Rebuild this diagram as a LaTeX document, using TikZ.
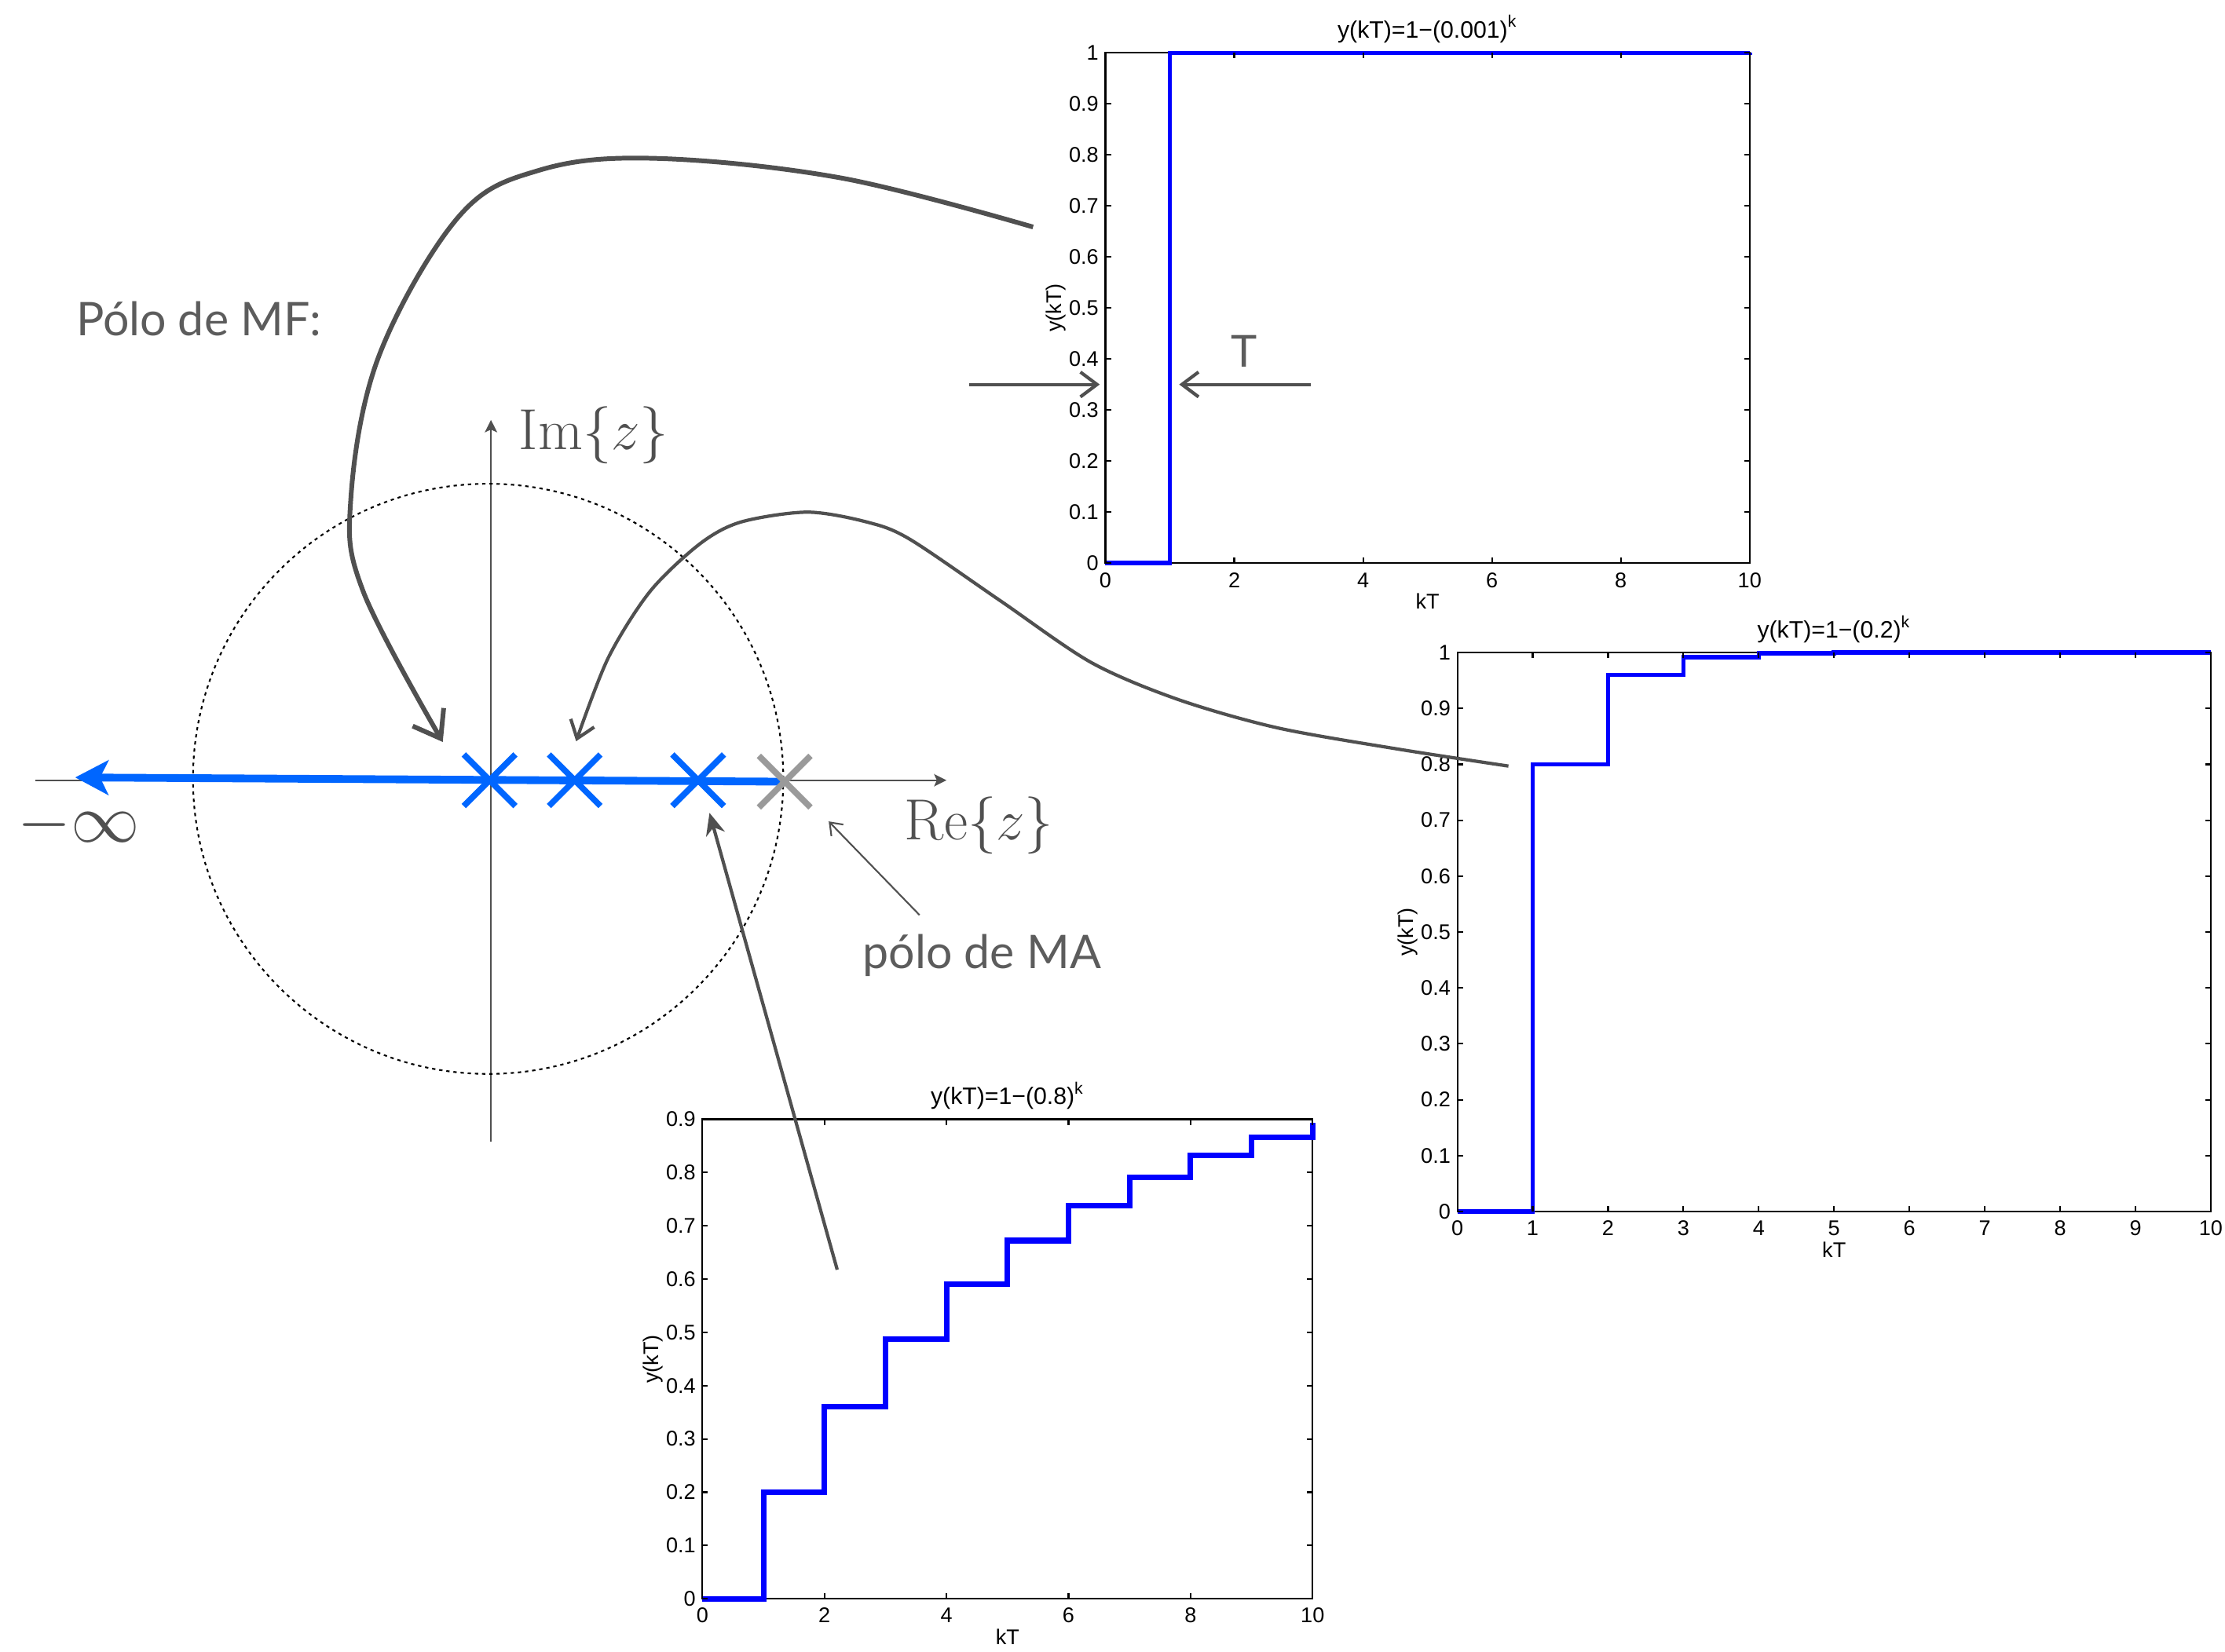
\documentclass[tikz,border=0pt]{standalone}
\usepackage{fontspec}
\usepackage{tikz}
\usetikzlibrary{arrows.meta,shapes.misc}

\newfontfamily\plotfont{Liberation Sans}
\newfontfamily\notefont{Lato}

\definecolor{arrowgray}{HTML}{505050}
\definecolor{notegray}{HTML}{5C5C5C}
\definecolor{polegray}{HTML}{9A9A9A}
\definecolor{zblue}{HTML}{0066FF}

\tikzset{
  axis/.style={arrowgray, line width=0.45pt, -{Stealth[length=4.5pt,width=4.5pt,inset=1pt]}},
  pole/.style={cross out, draw=zblue, line width=2.2pt, minimum size=5.8mm, inner sep=0pt},
  zlabel/.style={text=arrowgray, font=\fontsize{21}{25}\selectfont, inner sep=0pt, anchor=base},
  note/.style={text=notegray, font=\notefont\fontsize{16.8}{20}\selectfont, inner sep=0pt, anchor=base},
  callout/.style={arrowgray, line width=1.2pt, -{Straight Barb[length=6pt,width=9pt]}},
  frame/.style={black, line width=0.6pt},
  stairs/.style={blue, line width=1.6pt},
  ticklbl/.style={font=\plotfont\fontsize{7.7}{9}\selectfont, inner sep=0pt},
  plotlbl/.style={font=\plotfont\fontsize{8.6}{10}\selectfont, inner sep=0pt},
}

\begin{document}
\begin{tikzpicture}[x=0.18068mm, y=-0.18068mm]
\useasboundingbox (0,0) rectangle (1568,1164.5);

% step response, pole at 0.001
\begin{scope}[shift={(779,397)}, x=8.203mm, y=65.04mm]
  \draw[frame] (0,0) rectangle (10,1);
  \draw[stairs] plot[const plot] coordinates {(0,0) (1,0.999) (10,1)};
  \foreach \xt in {0,2,...,10} {
    \draw[frame] (\xt,0) -- ++(0,2pt) (\xt,1) -- ++(0,-2pt);
    \node[ticklbl, anchor=base, yshift=-3.07mm] (a\xt) at (\xt,0) {\xt};
  }
  \foreach \yt [count=\i] in {0,0.1,0.2,0.3,0.4,0.5,0.6,0.7,0.8,0.9,1} {
    \draw[frame] (0,\yt) -- ++(2pt,0) (10,\yt) -- ++(-2pt,0);
    \node[ticklbl, anchor=east, xshift=-0.8mm] (b\i) at (0,\yt) {\yt};
  }
  \node[plotlbl, anchor=base, yshift=1.86mm] (ttl1) at (5,1) {y(kT)=1−(0.001)\textsuperscript{k}};
  \node[ticklbl, anchor=base, yshift=-5.84mm] (kt1) at (5,0) {kT};
  \node[ticklbl, xshift=-6.27mm, rotate=90] (yk1) at (0,0.5) {y(kT)};
\end{scope}

% step response, pole at 0.2
\begin{scope}[shift={(1027,854)}, x=9.594mm, y=71.19mm]
  \draw[frame] (0,0) rectangle (10,1);
  \draw[stairs] plot[const plot, domain=0:10, samples=11] (\x, {1-0.2^\x});
  \foreach \xt in {0,...,10} {
    \draw[frame] (\xt,0) -- ++(0,2pt) (\xt,1) -- ++(0,-2pt);
    \node[ticklbl, anchor=base, yshift=-3.07mm] (c\xt) at (\xt,0) {\xt};
  }
  \foreach \yt [count=\i] in {0,0.1,0.2,0.3,0.4,0.5,0.6,0.7,0.8,0.9,1} {
    \draw[frame] (0,\yt) -- ++(2pt,0) (10,\yt) -- ++(-2pt,0);
    \node[ticklbl, anchor=east, xshift=-0.8mm] (d\i) at (0,\yt) {\yt};
  }
  \node[plotlbl, anchor=base, yshift=1.86mm] (ttl2) at (5,1) {y(kT)=1−(0.2)\textsuperscript{k}};
  \node[ticklbl, anchor=base, yshift=-5.84mm] (kt2) at (5,0) {kT};
  \node[ticklbl, xshift=-6.27mm, rotate=90] (yk2) at (0,0.5) {y(kT)};
\end{scope}

% step response, pole at 0.8
\begin{scope}[shift={(495,1127)}, x=7.769mm, y=67.86mm]
  \draw[frame] (0,0) rectangle (10,0.9);
  \draw[stairs, line width=2pt] plot[const plot, domain=0:10, samples=11] (\x, {1-0.8^\x});
  \foreach \xt in {0,2,...,10} {
    \draw[frame] (\xt,0) -- ++(0,2pt) (\xt,0.9) -- ++(0,-2pt);
    \node[ticklbl, anchor=base, yshift=-3.07mm] (e\xt) at (\xt,0) {\xt};
  }
  \foreach \yt [count=\i] in {0,0.1,0.2,0.3,0.4,0.5,0.6,0.7,0.8,0.9} {
    \draw[frame] (0,\yt) -- ++(2pt,0) (10,\yt) -- ++(-2pt,0);
    \node[ticklbl, anchor=east, xshift=-0.8mm] (f\i) at (0,\yt) {\yt};
  }
  \node[plotlbl, anchor=base, yshift=1.86mm] (ttl3) at (5,0.9) {y(kT)=1−(0.8)\textsuperscript{k}};
  \node[ticklbl, anchor=base, yshift=-5.84mm] (kt3) at (5,0) {kT};
  \node[ticklbl, xshift=-6.27mm, rotate=90] (yk3) at (0,0.45) {y(kT)};
\end{scope}

% z-plane
\coordinate (reL) at (25,550);
\coordinate (reR) at (667,550);
\coordinate (imB) at (346,805);
\coordinate (imT) at (346,296);
\draw[axis] (reL) -- (reR);
\draw[axis] (imB) -- (imT);
\draw[line width=0.6pt, dash pattern=on 1.2pt off 1.4pt] (344,549) circle (208);

% locus of the closed-loop pole
\coordinate (ma) at (553,551);
\coordinate (minf) at (53,548);
\draw[zblue, line width=2.8pt, -{Stealth[length=12pt,width=12.5pt,inset=3pt]}] (ma) -- (minf);
\node[pole] (p1) at (345,550) {};
\node[pole] (p2) at (405,550) {};
\node[pole] (p3) at (492,550) {};
\node[pole, draw=polegray] (p4) at (ma) {};

\node[zlabel] (im) at (418.5,317) {$\mathrm{Im}\{z\}$};
\node[zlabel] (re) at (690,592) {$\mathrm{Re}\{z\}$};
\node[zlabel, font=\fontsize{24.5}{28}\selectfont] (inf) at (55.6,593.5) {$-\infty$};
\node[note] (mf) at (140,236.4) {Pólo de MF:};
\node[note] (malbl) at (692,682.5) {pólo de MA};
\node[note, font=\notefont\fontsize{16}{19}\selectfont] (tlbl) at (877,259) {T};

% callouts
\coordinate (mastart) at (648,645);
\coordinate (matip) at (584,579);
\draw[arrowgray, line width=0.6pt, -{Straight Barb[length=4pt,width=6pt]}] (mastart) -- (matip);

\coordinate (tl0) at (683,271);
\coordinate (tl1) at (775,271);
\coordinate (tr0) at (924,271);
\coordinate (tr1) at (831,271);
\draw[callout] (tl0) -- (tl1);
\draw[callout] (tr0) -- (tr1);

\coordinate (mfstart) at (728,160);
\coordinate (mftip) at (312,523);
\draw[callout, line width=1.7pt, -{Straight Barb[length=9pt,width=13pt]}] plot[smooth, tension=0.6] coordinates {(mfstart) (593,125.5) (461,111.6) (380,120) (323,153) (267,251) (247.2,352) (256,417) (mftip)};

\coordinate (twostart) at (1063,540);
\coordinate (twotip) at (406,522.5);
\draw[callout] plot[smooth, tension=0.5] coordinates {(twostart) (985,528) (900,513) (830,493) (769,467) (705,423.5) (641,380) (611,368) (569,361) (522,368) (493,383.5) (458,417) (428.5,464) (twotip)};

\coordinate (eightstart) at (590,895);
\coordinate (eighttip) at (500,573);
\draw[callout, -{Stealth[length=8pt,width=7pt]}] (eightstart) -- (eighttip);

\end{tikzpicture}
\end{document}
